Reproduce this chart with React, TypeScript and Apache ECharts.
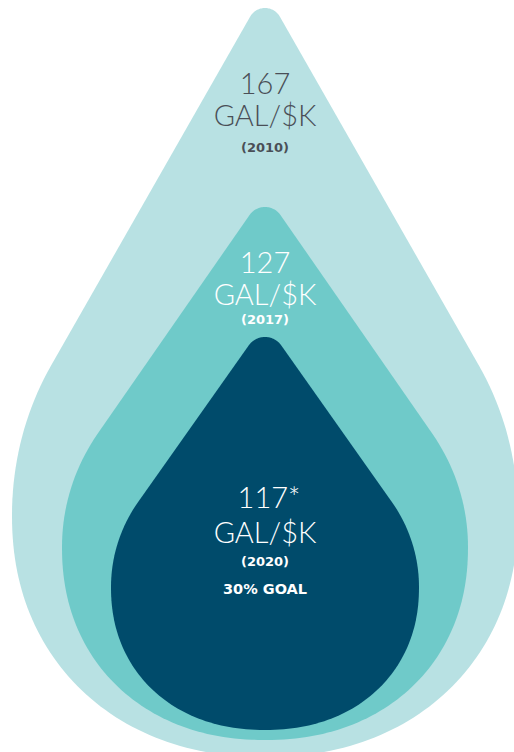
import React, { useEffect, useRef } from "react";
import * as echarts from "echarts";

// ---- data ----
const years = ["2010", "2017", "2020"];
const values = [167, 127, 117];
const valueMarks = ["", "", "*"];
const units = ["GAL/$K", "GAL/$K", "GAL/$K"];
const notes = ["", "", "30% GOAL"];

// ---- layout / style (frame of 514 x 752 units) ----
const FRAME_W = 514;
const FRAME_H = 752;
const CENTER_X = 265;
const DROP_COLORS = ["#B8E1E3", "#6FCAC9", "#004B6B"];
const TEXT_COLORS = ["#4A4F57", "#FFFFFF", "#FFFFFF"];
const DROP_SHAPES = [
  { top: 8, tipR: 17, cy: 515, rx: 253, ryUp: 280, ryDown: 242, n: 2.15 },
  { top: 207, tipR: 19, cy: 547, rx: 203, ryUp: 200, ryDown: 193, n: 2.15 },
  { top: 337, tipR: 20, cy: 587, rx: 154, ryUp: 150, ryDown: 143, n: 2.15 },
];
const LABEL_Y = [
  { value: 82, unit: 114, year: 147, note: 0 },
  { value: 261, unit: 293, year: 319, note: 0 },
  { value: 496, unit: 531, year: 561.5, note: 588.5 },
];
const VALUE_X_SHIFT = [0, 0, 4];
const BIG_FONT = "300 29px Lato";
const YEAR_FONT = "bold 13px 'DejaVu Sans'";
const NOTE_FONT = "bold 14.5px 'DejaVu Sans'";

type Shape = typeof DROP_SHAPES[number];

function dropOutline(s: Shape): number[][] {
  const cx = CENTER_X;
  let t0 = s.top - s.tipR;
  let alphaR = 0.5;
  let beta = 0;
  for (let k = 0; k < 10; k++) {
    const d = s.cy - t0;
    const a = Math.asin(Math.min(0.999, s.ryUp / d));
    const slope = (Math.tan(a) * s.rx) / s.ryUp;
    alphaR = Math.atan(slope);
    beta = Math.PI / 2 - a;
    t0 = s.top - s.tipR * (1 / Math.sin(alphaR) - 1);
  }
  const tipCy = t0 + s.tipR / Math.sin(alphaR);
  const left: number[][] = [];
  const N = 20;
  for (let i = 0; i <= N; i++) {
    const phi = ((Math.PI / 2 - alphaR) * i) / N;
    left.push([cx - s.tipR * Math.sin(phi), tipCy - s.tipR * Math.cos(phi)]);
  }
  for (let i = 0; i <= N; i++) {
    const th = beta + ((Math.PI / 2 - beta) * i) / N;
    left.push([cx - s.rx * Math.sin(th), s.cy - s.ryUp * Math.cos(th)]);
  }
  const e = 2 / s.n;
  const M = 60;
  for (let i = 1; i <= M; i++) {
    const psi = ((Math.PI / 2) * i) / M;
    left.push([
      cx - s.rx * Math.pow(Math.cos(psi), e),
      s.cy + s.ryDown * Math.pow(Math.sin(psi), e),
    ]);
  }
  const right = left
    .slice(0, left.length - 1)
    .reverse()
    .map(([x, y]) => [2 * cx - x, y]);
  return left.concat(right);
}

export default function App() {
  const ref = useRef<HTMLDivElement>(null);
  useEffect(() => {
    document.body.style.margin = "0";
    if (!ref.current) return;
    const chart = echarts.init(ref.current, undefined, { renderer: "svg" });
    chart.setOption({
      animation: false,
      backgroundColor: "#FFFFFF",
      grid: { left: 0, right: 0, top: 0, bottom: 0 },
      xAxis: { type: "value", min: 0, max: FRAME_W, show: false },
      yAxis: { type: "value", min: 0, max: FRAME_H, inverse: true, show: false },
      series: [
        {
          type: "custom",
          silent: true,
          clip: false,
          data: values.map((v, i) => [i, v]),
          renderItem: (params: any, api: any) => {
            const i = params.dataIndex;
            const pts = dropOutline(DROP_SHAPES[i]).map((p) => api.coord(p));
            const ly = LABEL_Y[i];
            const fill = TEXT_COLORS[i];
            const children: any[] = [
              { type: "polygon", shape: { points: pts }, style: { fill: DROP_COLORS[i] } },
            ];
            const addText = (text: string, y: number, font: string, dx = 0) => {
              const p = api.coord([CENTER_X + dx, y]);
              children.push({
                type: "text",
                x: p[0],
                y: p[1],
                style: { text, fill, font, align: "center", verticalAlign: "middle" },
              });
            };
            addText(String(api.value(1)) + valueMarks[i], ly.value, BIG_FONT, VALUE_X_SHIFT[i]);
            addText(units[i], ly.unit, BIG_FONT);
            addText("(" + years[i] + ")", ly.year, YEAR_FONT);
            if (notes[i]) addText(notes[i], ly.note, NOTE_FONT);
            return { type: "group", children };
          },
        },
      ],
    });
    return () => chart.dispose();
  }, []);
  return <div ref={ref} style={{ width: FRAME_W, height: FRAME_H }} />;
}
